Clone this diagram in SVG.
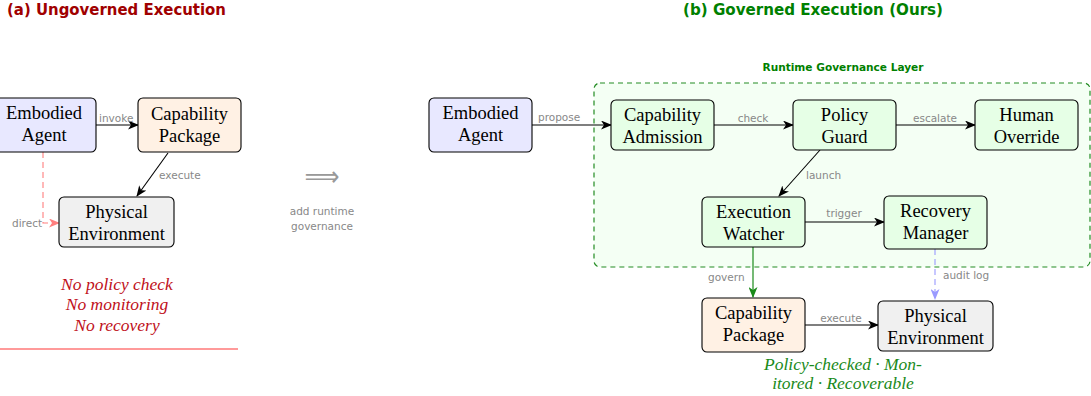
<svg xmlns="http://www.w3.org/2000/svg" width="1091" height="396" viewBox="0 0 1091 396">
<defs>
<style>
.node{stroke:#000;stroke-width:1.1}
.agent{fill:#e8e8ff}
.pkg{fill:#fff1e4}
.gov{fill:#e6ffe6}
.phys{fill:#f0f0f0}
.nt{font-family:"Liberation Serif",serif;font-size:18.5px;fill:#000;text-anchor:middle}
.lbl{font-family:"DejaVu Sans","Liberation Sans",sans-serif;font-size:10.5px;fill:#888}
.edge{fill:none;stroke:#000;stroke-width:1.1}
.note{font-family:"Liberation Serif",serif;font-style:italic;font-size:17.5px;text-anchor:middle}
</style>
<marker id="ab" markerWidth="11" markerHeight="9" refX="10" refY="4.5" orient="auto" markerUnits="userSpaceOnUse"><path d="M0,0 L11,4.5 L0,9 L3,4.5 z" fill="#000"/></marker>
<marker id="ag" markerWidth="11" markerHeight="9" refX="10" refY="4.5" orient="auto" markerUnits="userSpaceOnUse"><path d="M0,0 L11,4.5 L0,9 L3,4.5 z" fill="#1a8a1a"/></marker>
<marker id="au" markerWidth="11" markerHeight="9" refX="10" refY="4.5" orient="auto" markerUnits="userSpaceOnUse"><path d="M0,0 L11,4.5 L0,9 L3,4.5 z" fill="#9a9aff"/></marker>
<marker id="ap" markerWidth="11" markerHeight="9" refX="10" refY="4.5" orient="auto" markerUnits="userSpaceOnUse"><path d="M0,0 L11,4.5 L0,9 L3,4.5 z" fill="#ff7f7f"/></marker>
</defs>
<rect width="1091" height="396" fill="#fff"/>

<g id="titles">
<text x="7" y="15" font-family="DejaVu Sans,Liberation Sans,sans-serif" font-weight="bold" font-size="15" fill="#a00000" textLength="219" lengthAdjust="spacingAndGlyphs">(a) Ungoverned Execution</text>
<text x="683" y="15" font-family="DejaVu Sans,Liberation Sans,sans-serif" font-weight="bold" font-size="15" fill="#008000" textLength="260" lengthAdjust="spacingAndGlyphs">(b) Governed Execution (Ours)</text>
</g>

<g id="governance-layer">
<rect x="594" y="83" width="496" height="184" rx="6" fill="#f4fff4" stroke="#228b22" stroke-width="1.2" stroke-dasharray="5,4"/>
<text x="843" y="71" text-anchor="middle" font-family="DejaVu Sans,Liberation Sans,sans-serif" font-weight="bold" font-size="10" fill="#008000" textLength="161" lengthAdjust="spacingAndGlyphs">Runtime Governance Layer</text>
</g>

<g id="connectors">
<line class="edge" x1="96" y1="125" x2="138" y2="125" marker-end="url(#ab)"/>
<text class="lbl" x="99" y="122">invoke</text>
<line class="edge" x1="168" y1="153" x2="137" y2="196" marker-end="url(#ab)"/>
<text class="lbl" x="159" y="179">execute</text>
<path d="M43,152 V223 H59" fill="none" stroke="#ff7f7f" stroke-width="1.1" stroke-dasharray="6,4" marker-end="url(#ap)"/>
<text class="lbl" x="12" y="227">direct</text>
<line class="edge" x1="532" y1="125" x2="611" y2="125" marker-end="url(#ab)"/>
<text class="lbl" x="538" y="121">propose</text>
<line class="edge" x1="714" y1="125" x2="793" y2="125" marker-end="url(#ab)"/>
<text class="lbl" x="753" y="122" text-anchor="middle">check</text>
<line class="edge" x1="896" y1="125" x2="975" y2="125" marker-end="url(#ab)"/>
<text class="lbl" x="935" y="122" text-anchor="middle">escalate</text>
<line class="edge" x1="820" y1="150" x2="779" y2="196" marker-end="url(#ab)"/>
<text class="lbl" x="806" y="179">launch</text>
<line class="edge" x1="805" y1="222" x2="884" y2="222" marker-end="url(#ab)"/>
<text class="lbl" x="844" y="217" text-anchor="middle">trigger</text>
<line x1="753" y1="247" x2="753" y2="297" fill="none" stroke="#1a8a1a" stroke-width="1.2" marker-end="url(#ag)"/>
<text class="lbl" x="708" y="281">govern</text>
<line x1="935" y1="249" x2="935" y2="299" fill="none" stroke="#9a9aff" stroke-width="1.1" stroke-dasharray="6,4" marker-end="url(#au)"/>
<text class="lbl" x="943" y="279">audit log</text>
<line class="edge" x1="805" y1="325" x2="878" y2="325" marker-end="url(#ab)"/>
<text class="lbl" x="841" y="322" text-anchor="middle">execute</text>
</g>

<g id="a-agent">
<rect class="node agent" x="-8" y="98" width="104" height="54" rx="5"/>
<text class="nt" x="44" y="119">Embodied</text>
<text class="nt" x="44" y="141">Agent</text>
</g>
<g id="a-package">
<rect class="node pkg" x="138" y="98" width="103" height="54" rx="5"/>
<text class="nt" x="189.5" y="120">Capability</text>
<text class="nt" x="189.5" y="142">Package</text>
</g>
<g id="a-env">
<rect class="node phys" x="59" y="197" width="115" height="50" rx="5"/>
<text class="nt" x="116.5" y="218">Physical</text>
<text class="nt" x="116.5" y="240">Environment</text>
</g>

<g id="a-notes">
<text class="note" x="117" y="290" fill="#c0101a">No policy check</text>
<text class="note" x="117" y="310" fill="#c0101a">No monitoring</text>
<text class="note" x="117" y="331" fill="#c0101a">No recovery</text>
<line x1="0" y1="349" x2="238" y2="349" stroke="#ff9a9a" stroke-width="2"/>
</g>

<g id="transition">
<text x="322" y="186" text-anchor="middle" font-family="DejaVu Sans,sans-serif" font-size="28" fill="#999" textLength="35" lengthAdjust="spacingAndGlyphs">⟹</text>
<text class="lbl" x="322" y="215" text-anchor="middle">add runtime</text>
<text class="lbl" x="322" y="230" text-anchor="middle">governance</text>
</g>

<g id="b-agent">
<rect class="node agent" x="429" y="98" width="103" height="54" rx="5"/>
<text class="nt" x="480.5" y="119">Embodied</text>
<text class="nt" x="480.5" y="141">Agent</text>
</g>
<g id="b-admission">
<rect class="node gov" x="611" y="100" width="103" height="50" rx="5"/>
<text class="nt" x="662.5" y="121">Capability</text>
<text class="nt" x="662.5" y="143">Admission</text>
</g>
<g id="b-guard">
<rect class="node gov" x="793" y="100" width="103" height="50" rx="5"/>
<text class="nt" x="844.5" y="121">Policy</text>
<text class="nt" x="844.5" y="143">Guard</text>
</g>
<g id="b-override">
<rect class="node gov" x="975" y="100" width="103" height="50" rx="5"/>
<text class="nt" x="1026.5" y="121">Human</text>
<text class="nt" x="1026.5" y="143">Override</text>
</g>
<g id="b-watcher">
<rect class="node gov" x="702" y="197" width="103" height="50" rx="5"/>
<text class="nt" x="753.5" y="218">Execution</text>
<text class="nt" x="753.5" y="240">Watcher</text>
</g>
<g id="b-recovery">
<rect class="node gov" x="884" y="196" width="103" height="53" rx="5"/>
<text class="nt" x="935.5" y="217">Recovery</text>
<text class="nt" x="935.5" y="239">Manager</text>
</g>
<g id="b-package">
<rect class="node pkg" x="702" y="298" width="103" height="54" rx="5"/>
<text class="nt" x="753.5" y="319">Capability</text>
<text class="nt" x="753.5" y="341">Package</text>
</g>
<g id="b-env">
<rect class="node phys" x="878" y="301" width="115" height="50" rx="5"/>
<text class="nt" x="935.5" y="322">Physical</text>
<text class="nt" x="935.5" y="344">Environment</text>
</g>

<g id="b-notes">
<text class="note" x="843" y="370" fill="#1a8a1a">Policy-checked · Mon-</text>
<text class="note" x="843" y="389" fill="#1a8a1a">itored · Recoverable</text>
</g>
</svg>
